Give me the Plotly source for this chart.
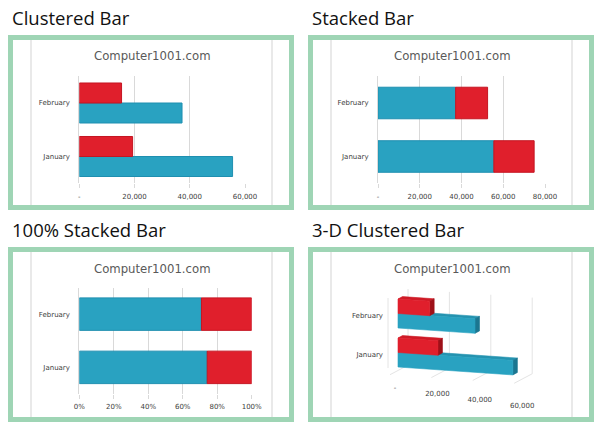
import plotly.graph_objects as go

# ---------------- data ----------------
categories = ["January", "February"]
series_names = ["Series 1", "Series 2"]
blue_values = [55500, 37200]
red_values = [19300, 15300]

panel_titles = ["Clustered Bar", "Stacked Bar", "100% Stacked Bar", "3-D Clustered Bar"]
chart_title = "Computer1001.com"
ticks_60 = [0, 20000, 40000, 60000]
ticklabels_60 = ["-", "20,000", "40,000", "60,000"]
ticks_80 = [0, 20000, 40000, 60000, 80000]
ticklabels_80 = ["-", "20,000", "40,000", "60,000", "80,000"]
pct_ticks = [0, 20, 40, 60, 80, 100]
pct_ticklabels = ["0%", "20%", "40%", "60%", "80%", "100%"]

# ---------------- styles ----------------
W, H = 600, 430
BLUE, BLUE_LINE = "#29a2c1", "#1f8fb0"
RED, RED_LINE = "#e01f2c", "#c51522"
GRID = "#d9d9d9"
FRAME = "#9fd5b5"
TICKFONT = dict(family="DejaVu Sans", size=7, color="#404040")


def fx(p):
    return p / W


def fy(p):
    return 1 - p / H


fig = go.Figure()

# ---- panel 1: clustered ----
w1 = 0.374
fig.add_trace(go.Bar(y=categories, x=blue_values, orientation="h", name=series_names[0],
                     width=w1, offset=-w1, xaxis="x", yaxis="y",
                     marker=dict(color=BLUE, line=dict(color=BLUE_LINE, width=1))))
fig.add_trace(go.Bar(y=categories, x=red_values, orientation="h", name=series_names[1],
                     width=w1, offset=0, xaxis="x", yaxis="y",
                     marker=dict(color=RED, line=dict(color=RED_LINE, width=1))))

# ---- panel 2: stacked ----
w2 = 0.59
fig.add_trace(go.Bar(y=categories, x=blue_values, orientation="h", name=series_names[0],
                     width=w2, offset=-w2 / 2, xaxis="x2", yaxis="y2",
                     marker=dict(color=BLUE, line=dict(color=BLUE_LINE, width=1))))
fig.add_trace(go.Bar(y=categories, x=red_values, base=blue_values, orientation="h",
                     name=series_names[1], width=w2, offset=-w2 / 2, xaxis="x2", yaxis="y2",
                     marker=dict(color=RED, line=dict(color=RED_LINE, width=1))))

# ---- panel 3: 100% stacked ----
totals = [b + r for b, r in zip(blue_values, red_values)]
blue_pct = [100 * b / t for b, t in zip(blue_values, totals)]
red_pct = [100 * r / t for r, t in zip(red_values, totals)]
w3 = 0.61
fig.add_trace(go.Bar(y=categories, x=blue_pct, orientation="h", name=series_names[0],
                     width=w3, offset=-w3 / 2, xaxis="x3", yaxis="y3",
                     marker=dict(color=BLUE, line=dict(color=BLUE_LINE, width=1))))
fig.add_trace(go.Bar(y=categories, x=red_pct, base=blue_pct, orientation="h",
                     name=series_names[1], width=w3, offset=-w3 / 2, xaxis="x3", yaxis="y3",
                     marker=dict(color=RED, line=dict(color=RED_LINE, width=1))))

# ---- panel 4: 3-D clustered (oblique projection, x in value units, y in px) ----
P4_X0 = 398.0          # px position of value 0 on the bar front plane
P4_SX = 2.07 / 1000    # px per value unit
P4_TILT = 0.069        # downward slope of the value axis
BAR_D = (4.5, -2.4)    # bar depth offset (px)
WALL_D = (10.0, -5.3)  # back wall offset (px)
FRONT_D = (-8.0, 4.2)  # floor front offset (px)
ROW_Y = {"February": 313.5, "January": 352.5}
BAR_H = 14.5
FLOOR_Y = 370.5
TOP_Y = 294.3


def pt(v, y0, dx=0.0, dy=0.0):
    return v + dx / P4_SX, y0 + P4_TILT * P4_SX * v + dy


def faces(values, upper):
    front, top, right = ([], []), ([], []), ([], [])
    for cat, v in zip(categories, values):
        yc = ROW_Y[cat]
        yt, yb = (yc - BAR_H, yc) if upper else (yc, yc + BAR_H)
        dx, dy = BAR_D
        polys = [
            (front, [pt(0, yt), pt(v, yt), pt(v, yb), pt(0, yb)]),
            (top, [pt(0, yt), pt(v, yt), pt(v, yt, dx, dy), pt(0, yt, dx, dy)]),
            (right, [pt(v, yt), pt(v, yb), pt(v, yb, dx, dy), pt(v, yt, dx, dy)]),
        ]
        for store, poly in polys:
            for x, y in poly + [poly[0]]:
                store[0].append(x)
                store[1].append(y)
            store[0].append(None)
            store[1].append(None)
    return front, top, right


# gridlines / walls
gx, gy = [], []
for v in ticks_60:
    for a, b in [(pt(v, FLOOR_Y, *WALL_D), pt(v, TOP_Y, *WALL_D)),
                 (pt(v, FLOOR_Y, *WALL_D), pt(v, FLOOR_Y, *FRONT_D))]:
        gx += [a[0], b[0], None]
        gy += [a[1], b[1], None]
a, b = pt(0, 368, -10, 0), pt(0, 298, -10, 0)
gx += [a[0], b[0], None]
gy += [a[1], b[1], None]
fig.add_trace(go.Scatter(x=gx, y=gy, mode="lines", line=dict(color="#e4e4e4", width=1),
                         xaxis="x4", yaxis="y4", hoverinfo="skip", showlegend=False))

for values, upper, cols in [
    (blue_values, False, ("#29a2c1", "#2593b0", "#1b7690")),
    (red_values, True, ("#e01f2c", "#cf1b27", "#9e1119")),
]:
    front, top, right = faces(values, upper)
    for (xs, ys), col in [(top, cols[1]), (right, cols[2]), (front, cols[0])]:
        fig.add_trace(go.Scatter(x=xs, y=ys, mode="lines", fill="toself", fillcolor=col,
                                 line=dict(color=col, width=0.6), xaxis="x4", yaxis="y4",
                                 hoverinfo="skip", showlegend=False))

# value labels of the 3-D chart
lab_x = [(395 - P4_X0) / P4_SX + v * 2.12 / 2.07 for v in ticks_60]
lab_y = [388 + 0.142 * 2.12e-3 * v for v in ticks_60]
fig.add_trace(go.Scatter(x=lab_x, y=lab_y, mode="text", text=ticklabels_60,
                         textposition="middle center", textfont=TICKFONT,
                         xaxis="x4", yaxis="y4", hoverinfo="skip", showlegend=False))
fig.add_trace(go.Scatter(x=[(383 - P4_X0) / P4_SX] * len(categories),
                         y=[ROW_Y[c] + 3 for c in categories], mode="text", text=categories,
                         textposition="middle left", textfont=TICKFONT,
                         xaxis="x4", yaxis="y4", hoverinfo="skip", showlegend=False))

# ---------------- axes ----------------
xbase = dict(showgrid=True, gridcolor=GRID, gridwidth=1, zeroline=False, ticks="outside",
             ticklen=4, tickcolor=GRID, tickfont=TICKFONT, showline=False, fixedrange=True,
             ticklabelstandoff=2, automargin=False)
ybase = dict(type="category", categoryorder="array", categoryarray=categories,
             showgrid=False, zeroline=False, showline=True, linecolor=GRID, linewidth=1,
             ticks="", tickfont=TICKFONT, fixedrange=True, ticklabelstandoff=7,
             automargin=False)

fig.update_layout(
    xaxis=dict(xbase, domain=[fx(79.3), fx(245)], range=[0, 60000], anchor="y",
               tickvals=ticks_60, ticktext=ticklabels_60),
    yaxis=dict(ybase, domain=[fy(183.25), fy(76.25)], anchor="x"),
    xaxis2=dict(xbase, domain=[fx(378), fx(545)], range=[0, 80000], anchor="y2",
                tickvals=ticks_80, ticktext=ticklabels_80),
    yaxis2=dict(ybase, domain=[fy(183.25), fy(76.25)], anchor="x2"),
    xaxis3=dict(xbase, domain=[fx(79.3), fx(251.7)], range=[0, 100], anchor="y3",
                tickvals=pct_ticks, ticktext=pct_ticklabels),
    yaxis3=dict(ybase, domain=[fy(394), fy(287.5)], anchor="x3"),
    xaxis4=dict(domain=[fx(331), fx(572)], range=[(331 - P4_X0) / P4_SX, (572 - P4_X0) / P4_SX],
                visible=False, fixedrange=True, anchor="y4", automargin=False),
    yaxis4=dict(domain=[fy(422), fy(270)], range=[422, 270], visible=False, fixedrange=True,
                anchor="x4", automargin=False),
)

# ---------------- frames and texts ----------------
shapes = []
annotations = []
panels = [(8, 35, 0), (308, 35, 1), (8, 247, 2), (308, 247, 3)]
for x0, y0, i in panels:
    shapes.append(dict(type="rect", xref="paper", yref="paper",
                       x0=fx(x0 + 2.5), x1=fx(x0 + 283.5), y0=fy(y0 + 2.5), y1=fy(y0 + 172.5),
                       line=dict(color=FRAME, width=5), fillcolor="white", layer="below"))
    for lx in (x0 + 23, x0 + 264):
        shapes.append(dict(type="line", xref="paper", yref="paper", x0=fx(lx), x1=fx(lx),
                           y0=fy(y0 + 5), y1=fy(y0 + 170), line=dict(color="#e2e2e2", width=1.5),
                           layer="below"))
    annotations.append(dict(text=panel_titles[i], xref="paper", yref="paper",
                            x=fx(x0 + 2), y=fy(y0 - 17), xanchor="left", yanchor="middle",
                            showarrow=False,
                            font=dict(family="Open Sans", size=18.5, color="#111111")))
    annotations.append(dict(text=chart_title, xref="paper", yref="paper",
                            x=fx(x0 + 144), y=fy(y0 + 21.5), xanchor="center", yanchor="middle",
                            showarrow=False,
                            font=dict(family="DejaVu Sans", size=11.7, color="#595959")))

fig.update_layout(
    width=W, height=H, autosize=False,
    margin=dict(l=0, r=0, t=0, b=0, pad=0, autoexpand=False),
    paper_bgcolor="white", plot_bgcolor="rgba(0,0,0,0)",
    barmode="overlay", showlegend=False,
    shapes=shapes, annotations=annotations,
)

fig.write_html(
    "out.html",
    config={"responsive": False, "displayModeBar": False},
    post_script="document.body.style.margin='0';document.body.style.overflow='hidden';",
)
